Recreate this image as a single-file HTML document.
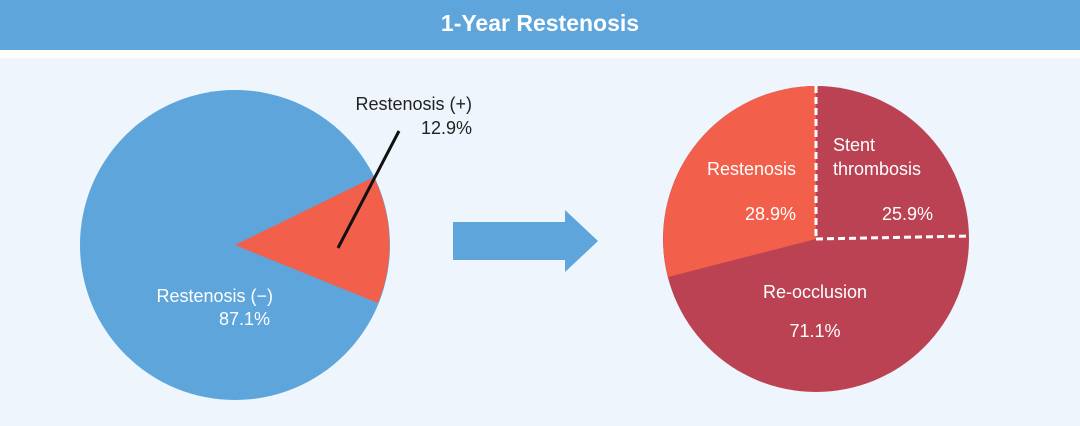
<!DOCTYPE html>
<html><head><meta charset="utf-8"><style>
html,body{margin:0;padding:0;background:#fff}
svg{display:block}
text{font-family:"Liberation Sans",sans-serif}
</style></head><body>
<svg width="1080" height="426" viewBox="0 0 1080 426">
<rect x="0" y="0" width="1080" height="426" fill="#eef5fc"/>
<rect x="0" y="0" width="1080" height="50" fill="#5da5da"/>
<rect x="0" y="50" width="1080" height="8" fill="#ffffff"/>
<text x="540" y="31" text-anchor="middle" font-size="23" font-weight="bold" fill="#fff">1-Year Restenosis</text>

<!-- left pie -->
<circle cx="235" cy="245" r="155" fill="#5da5da"/>
<path d="M235 245 L374 177 A155 155 0 0 1 378 303 Z" fill="#f25f4a"/>
<line x1="399" y1="131" x2="338" y2="248" stroke="#111" stroke-width="3"/>
<text x="472" y="110" text-anchor="end" font-size="18" fill="#222">Restenosis (+)</text>
<text x="472" y="134" text-anchor="end" font-size="18" fill="#222">12.9%</text>
<text x="273" y="302" text-anchor="end" font-size="18" fill="#fff">Restenosis (−)</text>
<text x="270" y="325" text-anchor="end" font-size="18" fill="#fff">87.1%</text>

<!-- arrow -->
<polygon points="453,222 565,222 565,210 598,241 565,272 565,260 453,260" fill="#5da5da"/>

<!-- right pie -->
<circle cx="816" cy="239" r="153" fill="#bb4253"/>
<path d="M816 239 L816 86 A153 153 0 0 0 668 277 Z" fill="#f25f4a"/>
<line x1="816" y1="86" x2="816" y2="239" stroke="#fff" stroke-width="3" stroke-dasharray="7,4"/>
<line x1="816" y1="239" x2="970" y2="236" stroke="#fff" stroke-width="3" stroke-dasharray="7,4"/>
<text x="796" y="175" text-anchor="end" font-size="18" fill="#fff">Restenosis</text>
<text x="796" y="220" text-anchor="end" font-size="18" fill="#fff">28.9%</text>
<text x="833" y="151" font-size="18" fill="#fff">Stent</text>
<text x="833" y="175" font-size="18" fill="#fff">thrombosis</text>
<text x="933" y="220" text-anchor="end" font-size="18" fill="#fff">25.9%</text>
<text x="815" y="298" text-anchor="middle" font-size="18" fill="#fff">Re-occlusion</text>
<text x="815" y="337" text-anchor="middle" font-size="18" fill="#fff">71.1%</text>
</svg>
</body></html>
